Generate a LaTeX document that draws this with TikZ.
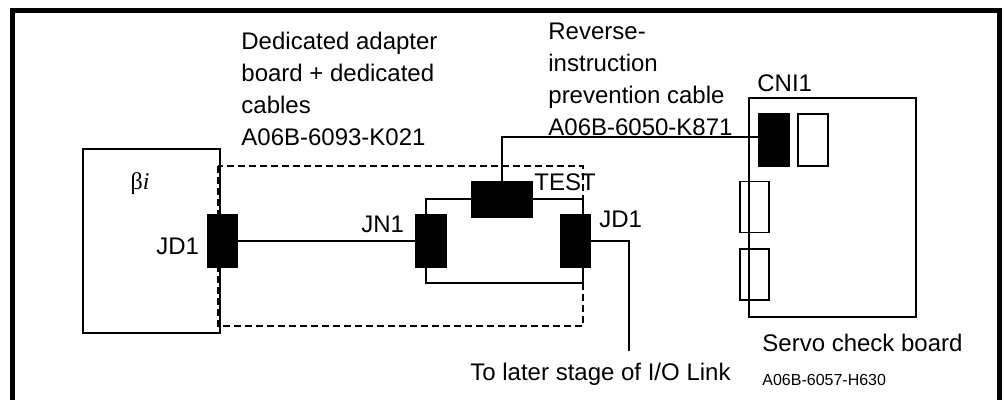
\documentclass[tikz,border=0pt]{standalone}
\usepackage{fontspec}
\setmainfont{Liberation Sans}
\newfontfamily\serifface{Liberation Serif}
\begin{document}
\begin{tikzpicture}[x=0.5pt,y=-0.5pt,
  txt/.style={anchor=base west,inner sep=0pt,font=\fontsize{12}{14}\selectfont},
  smalltxt/.style={anchor=base west,inner sep=0pt,font=\fontsize{8}{10}\selectfont},
  conn/.style={draw=black,fill=black,line width=0.8pt,inner sep=0pt,minimum width=15pt,minimum height=26pt},
  testconn/.style={conn,minimum width=30pt,minimum height=17.5pt},
  hole/.style={draw=black,line width=0.8pt,inner sep=0pt,minimum width=15pt,minimum height=26pt},
  sidehole/.style={hole,minimum width=14.5pt,minimum height=25.5pt},
  board/.style={draw=black,line width=0.9pt,inner sep=0pt},
  wire/.style={line width=0.8pt},
  frameline/.style={line width=2.5pt},
  dashbox/.style={line width=0.9pt,dash pattern=on 3.5pt off 2pt}]
\useasboundingbox (0,0) rectangle (1004,400);
% outer frame (open at the bottom)
\draw[frameline] (12,420) -- (12,10.5) -- (999,10.5) -- (999,420);
% boards
\node[board,minimum width=68.5pt,minimum height=92pt] (beta) at (151.5,241) {};
\node[board,minimum width=83.5pt,minimum height=109.5pt] (servo) at (832.5,207.5) {};
\node[board,minimum width=78.5pt,minimum height=42pt] (adapter) at (504.5,241) {};
% dashed outline of the adapter kit
\draw[dashbox] (218,166) rectangle (583,326);
% connectors
\node[conn] (ljd) at (222.5,241) {};
\node[conn] (jn) at (431,241) {};
\node[conn] (rjd) at (575.5,241) {};
\node[testconn] (test) at (502,199.5) {};
\node[conn] (cni) at (774,140) {};
\node[hole] (cnib) at (813,140) {};
\node[sidehole] (sa) at (754.5,207) {};
\node[sidehole] (sb) at (754.5,274.5) {};
% wires
\coordinate (ioend) at (629,351);
\draw[wire] (ljd.east) -- (jn.west);
\draw[wire] (test.north) |- ([yshift=1.5pt]cni.west);
\draw[wire] (rjd.east) -| (ioend);
% labels
\node[anchor=center,inner sep=0pt,font=\serifface\fontsize{12}{14}\selectfont] (betalbl) at (140,184) {β\textit{i}};
\node[txt] (ljdlbl) at (156,255) {JD1};
\node[txt] (jnlbl) at (361,233) {JN1};
\node[txt] (testlbl) at (534,191) {TEST};
\node[txt] (rjdlbl) at (599,228) {JD1};
\node[txt] (cnilbl) at (757,92) {CNI1};
\node[txt] (d1) at (241,50) {Dedicated adapter};
\node[txt] (d2) at (241,82) {board + dedicated};
\node[txt] (d3) at (241,114) {cables};
\node[txt] (d4) at (241,146) {A06B-6093-K021};
\node[txt] (r1) at (548,40) {Reverse-};
\node[txt] (r2) at (548,72) {instruction};
\node[txt] (r3) at (548,104) {prevention cable};
\node[txt] (r4) at (548,136) {A06B-6050-K871};
\node[txt] (servolbl) at (762,351) {Servo check board};
\node[smalltxt] (servono) at (762,385) {A06B-6057-H630};
\node[txt] (iolbl) at (470,380) {To later stage of I/O Link};
\end{tikzpicture}
\end{document}
